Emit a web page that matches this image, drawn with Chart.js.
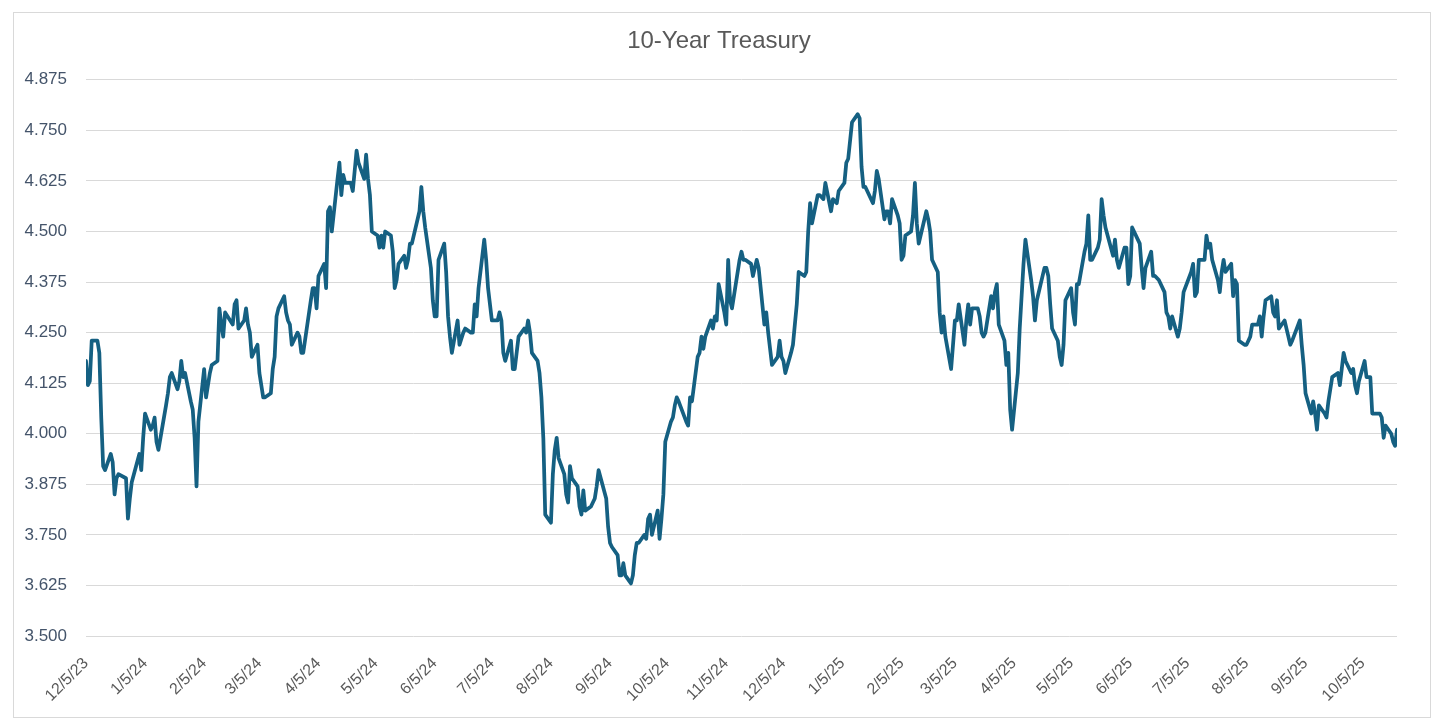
<!DOCTYPE html>
<html>
<head>
<meta charset="utf-8">
<title>10-Year Treasury</title>
<script src="https://cdn.jsdelivr.net/npm/chart.js@4/dist/chart.umd.min.js"></script>
<style>
    body { margin: 0; background: #ffffff; }
    #frame {
        position: absolute;
        left: 13px; top: 12px;
        width: 1416px; height: 704px;
        border: 1px solid #d9d9d9;
    }
    #wrap { position: absolute; left: 0; top: 0; width: 1438px; height: 726px; }
</style>
</head>
<body>
<div id="frame"></div>
<div id="wrap"><canvas id="treasury" width="1438" height="726"></canvas></div>
<script>
//Trading days, one line per month
const dates = [
    '12/5/23','12/6/23','12/7/23','12/8/23','12/11/23','12/12/23','12/13/23','12/14/23','12/15/23','12/18/23','12/19/23','12/20/23','12/21/23','12/22/23','12/26/23','12/27/23','12/28/23','12/29/23',
    '1/2/24','1/3/24','1/4/24','1/5/24','1/8/24','1/9/24','1/10/24','1/11/24','1/12/24','1/16/24','1/17/24','1/18/24','1/19/24','1/22/24','1/23/24','1/24/24','1/25/24','1/26/24','1/29/24','1/30/24','1/31/24',
    '2/1/24','2/2/24','2/5/24','2/6/24','2/7/24','2/8/24','2/9/24','2/12/24','2/13/24','2/14/24','2/15/24','2/16/24','2/20/24','2/21/24','2/22/24','2/23/24','2/26/24','2/27/24','2/28/24','2/29/24',
    '3/1/24','3/4/24','3/5/24','3/6/24','3/7/24','3/8/24','3/11/24','3/12/24','3/13/24','3/14/24','3/15/24','3/18/24','3/19/24','3/20/24','3/21/24','3/22/24','3/25/24','3/26/24','3/27/24','3/28/24',
    '4/1/24','4/2/24','4/3/24','4/4/24','4/5/24','4/8/24','4/9/24','4/10/24','4/11/24','4/12/24','4/15/24','4/16/24','4/17/24','4/18/24','4/19/24','4/22/24','4/23/24','4/24/24','4/25/24','4/26/24','4/29/24','4/30/24',
    '5/1/24','5/2/24','5/3/24','5/6/24','5/7/24','5/8/24','5/9/24','5/10/24','5/13/24','5/14/24','5/15/24','5/16/24','5/17/24','5/20/24','5/21/24','5/22/24','5/23/24','5/24/24','5/28/24','5/29/24','5/30/24','5/31/24',
    '6/3/24','6/4/24','6/5/24','6/6/24','6/7/24','6/10/24','6/11/24','6/12/24','6/13/24','6/14/24','6/17/24','6/18/24','6/20/24','6/21/24','6/24/24','6/25/24','6/26/24','6/27/24','6/28/24',
    '7/1/24','7/2/24','7/3/24','7/5/24','7/8/24','7/9/24','7/10/24','7/11/24','7/12/24','7/15/24','7/16/24','7/17/24','7/18/24','7/19/24','7/22/24','7/23/24','7/24/24','7/25/24','7/26/24','7/29/24','7/30/24','7/31/24',
    '8/1/24','8/2/24','8/5/24','8/6/24','8/7/24','8/8/24','8/9/24','8/12/24','8/13/24','8/14/24','8/15/24','8/16/24','8/19/24','8/20/24','8/21/24','8/22/24','8/23/24','8/26/24','8/27/24','8/28/24','8/29/24','8/30/24',
    '9/3/24','9/4/24','9/5/24','9/6/24','9/9/24','9/10/24','9/11/24','9/12/24','9/13/24','9/16/24','9/17/24','9/18/24','9/19/24','9/20/24','9/23/24','9/24/24','9/25/24','9/26/24','9/27/24','9/30/24',
    '10/1/24','10/2/24','10/3/24','10/4/24','10/7/24','10/8/24','10/9/24','10/10/24','10/11/24','10/15/24','10/16/24','10/17/24','10/18/24','10/21/24','10/22/24','10/23/24','10/24/24','10/25/24','10/28/24','10/29/24','10/30/24','10/31/24',
    '11/1/24','11/4/24','11/5/24','11/6/24','11/7/24','11/8/24','11/12/24','11/13/24','11/14/24','11/15/24','11/18/24','11/19/24','11/20/24','11/21/24','11/22/24','11/25/24','11/26/24','11/27/24','11/29/24',
    '12/2/24','12/3/24','12/4/24','12/5/24','12/6/24','12/9/24','12/10/24','12/11/24','12/12/24','12/13/24','12/16/24','12/17/24','12/18/24','12/19/24','12/20/24','12/23/24','12/24/24','12/26/24','12/27/24','12/30/24','12/31/24',
    '1/2/25','1/3/25','1/6/25','1/7/25','1/8/25','1/10/25','1/13/25','1/14/25','1/15/25','1/16/25','1/17/25','1/21/25','1/22/25','1/23/25','1/24/25','1/27/25','1/28/25','1/29/25','1/30/25','1/31/25',
    '2/3/25','2/4/25','2/5/25','2/6/25','2/7/25','2/10/25','2/11/25','2/12/25','2/13/25','2/14/25','2/18/25','2/19/25','2/20/25','2/21/25','2/24/25','2/25/25','2/26/25','2/27/25','2/28/25',
    '3/3/25','3/4/25','3/5/25','3/6/25','3/7/25','3/10/25','3/11/25','3/12/25','3/13/25','3/14/25','3/17/25','3/18/25','3/19/25','3/20/25','3/21/25','3/24/25','3/25/25','3/26/25','3/27/25','3/28/25','3/31/25',
    '4/1/25','4/2/25','4/3/25','4/4/25','4/7/25','4/8/25','4/9/25','4/10/25','4/11/25','4/14/25','4/15/25','4/16/25','4/17/25','4/21/25','4/22/25','4/23/25','4/24/25','4/25/25','4/28/25','4/29/25','4/30/25',
    '5/1/25','5/2/25','5/5/25','5/6/25','5/7/25','5/8/25','5/9/25','5/12/25','5/13/25','5/14/25','5/15/25','5/16/25','5/19/25','5/20/25','5/21/25','5/22/25','5/23/25','5/27/25','5/28/25','5/29/25','5/30/25',
    '6/2/25','6/3/25','6/4/25','6/5/25','6/6/25','6/9/25','6/10/25','6/11/25','6/12/25','6/13/25','6/16/25','6/17/25','6/18/25','6/20/25','6/23/25','6/24/25','6/25/25','6/26/25','6/27/25','6/30/25',
    '7/1/25','7/2/25','7/3/25','7/7/25','7/8/25','7/9/25','7/10/25','7/11/25','7/14/25','7/15/25','7/16/25','7/17/25','7/18/25','7/21/25','7/22/25','7/23/25','7/24/25','7/25/25','7/28/25','7/29/25','7/30/25','7/31/25',
    '8/1/25','8/4/25','8/5/25','8/6/25','8/7/25','8/8/25','8/11/25','8/12/25','8/13/25','8/14/25','8/15/25','8/18/25','8/19/25','8/20/25','8/21/25','8/22/25','8/25/25','8/26/25','8/27/25','8/28/25','8/29/25',
    '9/2/25','9/3/25','9/4/25','9/5/25','9/8/25','9/9/25','9/10/25','9/11/25','9/12/25','9/15/25','9/16/25','9/17/25','9/18/25','9/19/25','9/22/25','9/23/25','9/24/25','9/25/25','9/26/25','9/29/25','9/30/25',
    '10/1/25','10/2/25','10/3/25','10/6/25','10/7/25','10/8/25','10/9/25','10/10/25','10/14/25','10/15/25','10/16/25','10/17/25','10/20/25','10/21/25','10/22/25','10/23/25',
];

//10-year yield, same order as dates
const yields = [
    4.18,4.12,4.13,4.23,4.23,4.20,4.04,3.92,3.91,3.95,3.93,3.85,3.89,3.90,3.89,3.79,3.84,3.88,
    3.95,3.91,3.99,4.05,4.01,4.02,4.04,3.98,3.96,4.07,4.10,4.14,4.15,4.11,4.13,4.18,4.14,4.15,4.08,4.06,3.99,
    3.87,4.03,4.16,4.09,4.12,4.15,4.17,4.18,4.31,4.27,4.24,4.30,4.27,4.32,4.33,4.26,4.28,4.31,4.27,4.25,
    4.19,4.22,4.15,4.12,4.09,4.09,4.10,4.16,4.19,4.29,4.31,4.34,4.30,4.28,4.27,4.22,4.25,4.24,4.20,4.20,
    4.33,4.36,4.36,4.31,4.39,4.42,4.36,4.55,4.56,4.50,4.63,4.67,4.59,4.64,4.62,4.62,4.60,4.65,4.70,4.67,4.63,4.69,
    4.63,4.59,4.50,4.49,4.46,4.49,4.46,4.50,4.49,4.45,4.36,4.38,4.42,4.44,4.41,4.43,4.47,4.47,4.55,4.61,4.55,4.51,
    4.41,4.33,4.29,4.29,4.43,4.47,4.40,4.29,4.24,4.20,4.28,4.22,4.25,4.26,4.25,4.25,4.32,4.29,4.36,
    4.48,4.43,4.36,4.28,4.28,4.30,4.28,4.20,4.18,4.23,4.16,4.16,4.20,4.24,4.26,4.25,4.28,4.25,4.20,4.18,4.15,4.09,
    3.99,3.80,3.78,3.90,3.96,3.99,3.94,3.90,3.85,3.83,3.92,3.89,3.87,3.82,3.80,3.86,3.81,3.82,3.83,3.84,3.87,3.91,
    3.84,3.77,3.73,3.72,3.70,3.65,3.65,3.68,3.65,3.63,3.65,3.70,3.73,3.73,3.75,3.74,3.79,3.80,3.75,3.81,
    3.74,3.79,3.85,3.98,4.03,4.04,4.07,4.09,4.08,4.03,4.02,4.09,4.08,4.19,4.20,4.24,4.21,4.24,4.28,4.26,4.29,4.28,
    4.37,4.30,4.27,4.43,4.33,4.31,4.43,4.45,4.43,4.43,4.42,4.39,4.41,4.43,4.41,4.27,4.30,4.25,4.17,
    4.19,4.23,4.19,4.18,4.15,4.20,4.22,4.27,4.32,4.40,4.39,4.40,4.50,4.57,4.52,4.59,4.59,4.58,4.62,4.55,4.58,
    4.57,4.60,4.62,4.67,4.68,4.77,4.79,4.78,4.66,4.61,4.61,4.57,4.60,4.65,4.63,4.53,4.55,4.55,4.52,4.58,
    4.54,4.52,4.43,4.44,4.49,4.50,4.54,4.62,4.52,4.47,4.55,4.53,4.50,4.43,4.40,4.30,4.25,4.29,4.24,
    4.16,4.22,4.28,4.28,4.32,4.22,4.28,4.32,4.27,4.31,4.31,4.29,4.25,4.24,4.25,4.34,4.31,4.35,4.37,4.27,4.23,
    4.17,4.20,4.06,4.01,4.15,4.26,4.34,4.42,4.48,4.38,4.34,4.28,4.33,4.41,4.41,4.39,4.32,4.26,4.23,4.19,4.17,
    4.22,4.33,4.36,4.30,4.27,4.37,4.37,4.45,4.47,4.54,4.43,4.43,4.46,4.48,4.58,4.54,4.51,4.44,4.48,4.43,4.41,
    4.46,4.46,4.37,4.39,4.51,4.48,4.47,4.41,4.36,4.41,4.45,4.39,4.39,4.38,4.35,4.30,4.29,4.26,4.29,4.24,
    4.26,4.30,4.35,4.40,4.42,4.34,4.35,4.43,4.43,4.49,4.46,4.47,4.43,4.38,4.35,4.40,4.43,4.40,4.42,4.34,4.38,4.37,
    4.23,4.22,4.22,4.23,4.24,4.27,4.27,4.29,4.24,4.29,4.33,4.34,4.30,4.29,4.33,4.26,4.28,4.26,4.24,4.22,4.23,
    4.28,4.22,4.17,4.10,4.05,4.08,4.05,4.01,4.07,4.05,4.04,4.08,4.11,4.14,4.15,4.12,4.16,4.20,4.18,4.15,4.16,
    4.12,4.10,4.13,4.18,4.14,4.14,4.14,4.05,4.05,4.04,3.99,4.02,4.00,3.98,3.97,4.01,
];

//Month ticks on the date axis
const tickLabels = ['12/5/23','1/5/24','2/5/24','3/5/24','4/5/24','5/5/24','6/5/24','7/5/24','8/5/24','9/5/24','10/5/24','11/5/24',
    '12/5/24','1/5/25','2/5/25','3/5/25','4/5/25','5/5/25','6/5/25','7/5/25','8/5/25','9/5/25','10/5/25'];

//Days since the first date, so the axis keeps calendar spacing like a date axis
function dayOf(label) {
    const p = label.split('/').map(Number);
    const start = dates[0].split('/').map(Number);
    const t = Date.UTC(2000 + p[2], p[0] - 1, p[1]);
    const t0 = Date.UTC(2000 + start[2], start[0] - 1, start[1]);
    return Math.round((t - t0) / 86400000);
}

const points = dates.map((d, i) => ({ x: dayOf(d), y: yields[i] }));

const ctx = document.getElementById('treasury');
const treasuryChart = new Chart(ctx, {
    type: 'line',
    data: {
        datasets: [{
            label: '10-Year Treasury',
            data: points,
            borderColor: '#156082',
            borderWidth: 3.75,
            borderJoinStyle: 'round',
            borderCapStyle: 'round',
            pointRadius: 0,
            tension: 0,
            fill: false,
        }]
    },
    options: {
        responsive: false,
        animation: false,
        devicePixelRatio: 1,
        layout: { padding: 0 },
        plugins: {
            legend: { display: false },
            tooltip: { enabled: false },
            title: {
                display: true,
                text: '10-Year Treasury',
                color: '#595959',
                font: { family: 'Liberation Sans', size: 24, weight: 'normal' },
                padding: { top: 27, bottom: 24 },
            },
        },
        scales: {
            x: {
                type: 'linear',
                min: 0,
                max: dayOf(dates[dates.length - 1]),
                grid: { display: false },
                border: { display: false },
                afterBuildTicks: scale => {
                    scale.ticks = tickLabels.map(l => ({ value: dayOf(l) }));
                },
                afterFit: scale => { scale.height = 90; },
                ticks: {
                    autoSkip: false,
                    minRotation: 45,
                    maxRotation: 45,
                    padding: 10,
                    color: '#595959',
                    font: { family: 'Liberation Sans', size: 16 },
                    callback: (value, index) => tickLabels[index],
                },
            },
            y: {
                min: 3.5,
                max: 4.875,
                grid: { color: '#d9d9d9', lineWidth: 1, drawTicks: false },
                border: { display: false },
                afterFit: scale => { scale.width = 86; },
                ticks: {
                    stepSize: 0.125,
                    padding: 19,
                    color: '#44546a',
                    font: { family: 'Liberation Sans', size: 17 },
                    callback: value => value.toFixed(3),
                },
            },
            //empty right margin, keeps the title centred on the whole chart
            right: {
                position: 'right',
                grid: { display: false },
                border: { display: false },
                ticks: { display: false },
                afterFit: scale => { scale.width = 41; },
            },
        },
    },
});
</script>
</body>
</html>
